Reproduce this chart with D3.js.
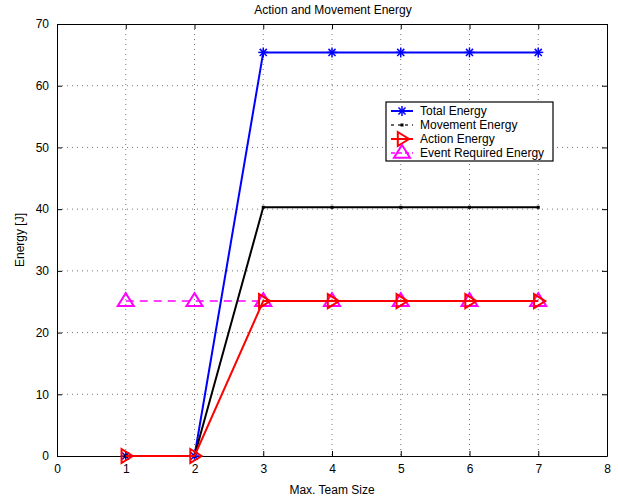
<!DOCTYPE html>
<html><head><meta charset="utf-8">
<script src="https://cdn.jsdelivr.net/npm/d3@7"></script>
<style>body{margin:0;background:#fff;} text{font-family:"Liberation Sans",Arial,sans-serif;}</style>
</head><body>
<svg id="c" width="618" height="503"></svg>
<script>
const teamSize = [1,2,3,4,5,6,7];
const totalEnergy = [0,0,65.4,65.4,65.4,65.4,65.4];
const movementEnergy = [0,0,40.3,40.3,40.3,40.3,40.3];
const actionEnergy = [0,0,25.1,25.1,25.1,25.1,25.1];
const eventEnergy = [25.1,25.1,25.1,25.1,25.1,25.1,25.1];
const xTicks = [0,1,2,3,4,5,6,7,8];
const yTicks = [0,10,20,30,40,50,60,70];
const legendLabels = ["Total Energy","Movement Energy","Action Energy","Event Required Energy"];

const svg = d3.select("#c");
const L=57,R=607,T=24,B=456;
const x = d3.scaleLinear().domain([0,8]).range([L,R]);
const y = d3.scaleLinear().domain([0,70]).range([B,T]);

// grid
const g = svg.append("g");
xTicks.slice(1,-1).forEach(t=>g.append("line").attr("x1",x(t)).attr("x2",x(t)).attr("y1",T).attr("y2",B)
  .attr("stroke","#777").attr("stroke-width",1).attr("stroke-dasharray","1,4"));
yTicks.slice(1,-1).forEach(t=>g.append("line").attr("y1",y(t)).attr("y2",y(t)).attr("x1",L).attr("x2",R)
  .attr("stroke","#777").attr("stroke-width",1).attr("stroke-dasharray","1,4"));

// axes
const ax = svg.append("g").attr("transform",`translate(0,${B})`).call(d3.axisBottom(x).tickValues(xTicks).tickSizeInner(-5).tickSizeOuter(0).tickPadding(8));
const ay = svg.append("g").attr("transform",`translate(${L},0)`).call(d3.axisLeft(y).tickValues(yTicks).tickSizeInner(-5).tickSizeOuter(0).tickPadding(8));
const axT = svg.append("g").attr("transform",`translate(0,${T})`).call(d3.axisTop(x).tickValues(xTicks).tickSizeInner(-5).tickSizeOuter(0).tickFormat(""));
const ayR = svg.append("g").attr("transform",`translate(${R},0)`).call(d3.axisRight(y).tickValues(yTicks).tickSizeInner(-5).tickSizeOuter(0).tickFormat(""));
[ax,ay,axT,ayR].forEach(a=>{a.select(".domain").attr("stroke","#000");a.selectAll("text").attr("font-size",12).attr("fill","#000").attr("font-family","Liberation Sans, Arial, sans-serif");});

const line = d3.line().x((d,i)=>x(teamSize[i])).y(d=>y(d));

// markers
function star(sel,cx,cy,col){const r=5;
  [0,45,90,135].forEach(a=>{const rad=a*Math.PI/180;
    sel.append("line").attr("x1",cx-r*Math.cos(rad)).attr("y1",cy-r*Math.sin(rad)).attr("x2",cx+r*Math.cos(rad)).attr("y2",cy+r*Math.sin(rad)).attr("stroke",col).attr("stroke-width",1.5);});}
function dot(sel,cx,cy,col){sel.append("rect").attr("x",cx-1.5).attr("y",cy-1.5).attr("width",3).attr("height",3).attr("fill",col);}
function triR(sel,cx,cy,col){const s=7;
  sel.append("path").attr("d",`M${cx-s*0.6},${cy-s}L${cx+s},${cy}L${cx-s*0.6},${cy+s}Z`).attr("fill","none").attr("stroke",col).attr("stroke-width",2);}
function triU(sel,cx,cy,col){const s=8;
  sel.append("path").attr("d",`M${cx},${cy-s}L${cx+s},${cy+s*0.6}L${cx-s},${cy+s*0.6}Z`).attr("fill","none").attr("stroke",col).attr("stroke-width",2);}

const series = [
  {data:eventEnergy,col:"#ff00ff",dash:"8,6",mk:triU,w:1.5},
  {data:totalEnergy,col:"#0000ff",dash:null,mk:star,w:2},
  {data:movementEnergy,col:"#000000",dash:null,mk:dot,w:2},
  {data:actionEnergy,col:"#ff0000",dash:null,mk:triR,w:2}
];
series.forEach(s=>{
  const gs=svg.append("g");
  gs.append("path").attr("d",line(s.data)).attr("fill","none").attr("stroke",s.col).attr("stroke-width",s.w).attr("stroke-dasharray",s.dash);
  s.data.forEach((v,i)=>s.mk(gs,x(teamSize[i]),y(v),s.col));
});

// legend
const lg = svg.append("g");
lg.append("rect").attr("x",386).attr("y",102).attr("width",167).attr("height",59).attr("fill","#fff").attr("stroke","#000").attr("stroke-width",1.2);
const order=[1,2,3,0];
order.forEach((si,k)=>{const s=series[si];const ly=111+k*14;
  const dashL = si===2 ? "3,4" : (s.dash?"4,3":null);
  lg.append("line").attr("x1",391).attr("x2",413).attr("y1",ly).attr("y2",ly).attr("stroke",si===2?"#666":s.col).attr("stroke-width",s.w).attr("stroke-dasharray",dashL);
  s.mk(lg,402,ly,s.col);
  lg.append("text").attr("x",420).attr("y",ly+4).attr("font-size",12).text(legendLabels[k]);
});

svg.append("text").attr("x",333).attr("y",14).attr("text-anchor","middle").attr("font-size",12).text("Action and Movement Energy");
svg.append("text").attr("x",332).attr("y",494).attr("text-anchor","middle").attr("font-size",12).text("Max. Team Size");
svg.append("text").attr("transform","translate(24,240) rotate(-90)").attr("text-anchor","middle").attr("font-size",12).text("Energy [J]");
</script>
</body></html>
